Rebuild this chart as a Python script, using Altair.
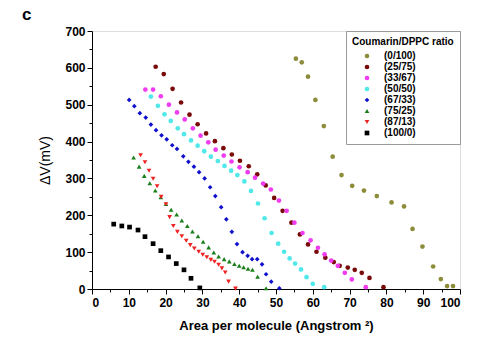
import altair as alt
import pandas as pd

series_names = ["(0/100)", "(25/75)", "(33/67)", "(50/50)", "(67/33)", "(75/25)", "(87/13)", "(100/0)"]
series_colors = ["#8c8c3a", "#7a0a0a", "#f03cf0", "#50e8e8", "#1010cc", "#1a7f1a", "#ee2222", "#000000"]
series_shapes = ["circle", "circle", "circle", "circle", "diamond", "triangle-up", "triangle-down", "square"]

x_0_100 = [55.4, 57.0, 58.7, 60.7, 63.0, 65.4, 67.8, 70.7, 73.9, 77.4, 81.4, 84.8, 87.1, 89.8, 92.7, 94.8, 96.5, 98.1]
y_0_100 = [625, 615, 576, 513, 442, 359, 309, 280, 267, 252, 235, 224, 163, 115, 61, 27, 8, 8]

x_25_75 = [17.3, 19.5, 21.9, 24.2, 26.5, 28.7, 31.0, 33.4, 35.7, 38.0, 40.2, 42.6, 44.9, 47.2, 49.5, 51.8, 54.2, 56.5, 58.7, 61.0, 63.4, 65.7, 67.3, 69.5, 71.4, 73.3, 75.4, 79.2]
y_25_75 = [603, 583, 543, 506, 473, 447, 422, 401, 382, 365, 348, 333, 311, 281, 247, 212, 180, 148, 121, 101, 85, 73, 63, 58, 52, 44, 30, 5]

x_33_67 = [14.5, 16.6, 18.7, 20.9, 23.1, 25.2, 27.4, 29.5, 31.6, 33.6, 35.8, 37.9, 40.1, 42.3, 44.3, 46.5, 48.6, 50.8, 52.9, 55.0, 57.2, 59.4, 61.4, 63.2, 65.0, 66.8, 68.7, 70.6, 74.4]
y_33_67 = [541, 541, 523, 500, 479, 460, 436, 416, 398, 378, 362, 346, 330, 317, 302, 286, 270, 240, 212, 180, 152, 132, 112, 94, 77, 63, 44, 26, 5]

x_50_50 = [16.0, 17.9, 19.7, 21.4, 23.3, 25.0, 26.9, 28.7, 30.5, 32.3, 34.2, 36.0, 37.8, 39.5, 41.4, 43.2, 45.1, 46.9, 48.8, 50.6, 52.2, 53.7, 55.2, 56.8, 58.3, 60.0, 63.1]
y_50_50 = [522, 497, 474, 456, 436, 420, 403, 389, 374, 359, 347, 334, 321, 309, 292, 266, 232, 192, 152, 123, 101, 83, 69, 53, 32, 14, 5]

x_67_33 = [10.1, 11.5, 13.0, 14.6, 16.0, 17.4, 18.9, 20.3, 21.8, 23.1, 24.8, 26.2, 27.7, 29.1, 30.6, 32.1, 33.5, 35.1, 36.5, 38.0, 39.4, 40.9, 42.3, 43.5, 44.9, 46.2, 47.3, 48.7, 50.9]
y_67_33 = [513, 496, 477, 465, 446, 431, 417, 406, 390, 380, 360, 345, 332, 317, 300, 276, 252, 222, 189, 155, 122, 100, 90, 81, 81, 67, 40, 20, 2]

x_75_25 = [11.3, 12.8, 14.2, 15.7, 17.2, 18.7, 20.1, 21.5, 23.0, 24.4, 25.9, 27.3, 28.8, 30.2, 31.7, 33.1, 34.4, 35.9, 37.3, 38.7, 40.0, 41.2, 42.4, 43.6, 45.0, 47.3]
y_75_25 = [357, 332, 307, 287, 267, 249, 231, 215, 202, 186, 171, 156, 143, 128, 113, 99, 88, 81, 75, 68, 63, 59, 55, 52, 33, 2]

x_87_13 = [13.2, 14.4, 15.5, 16.6, 17.7, 18.8, 20.1, 21.1, 22.1, 23.2, 24.4, 25.6, 26.7, 27.8, 29.0, 30.1, 31.2, 32.3, 33.3, 34.4, 35.3, 36.2, 37.1, 39.0]
y_87_13 = [363, 344, 321, 299, 279, 250, 230, 195, 171, 155, 143, 131, 119, 110, 101, 93, 86, 79, 74, 66, 56, 45, 20, 1]

x_100_0 = [5.9, 8.1, 10.2, 12.5, 14.4, 16.6, 18.7, 20.8, 22.9, 25.0, 26.9, 29.3]
y_100_0 = [176, 171, 168, 160, 142, 123, 104, 87, 69, 52, 29, 3]

x_major = [0, 10, 20, 30, 40, 50, 60, 70, 80, 90, 100]
x_minor = [5, 15, 25, 35, 45, 55, 65, 75, 85, 95]
y_major = [0, 100, 200, 300, 400, 500, 600, 700]
y_minor = [50, 150, 250, 350, 450, 550, 650]

all_x = [x_0_100, x_25_75, x_33_67, x_50_50, x_67_33, x_75_25, x_87_13, x_100_0]
all_y = [y_0_100, y_25_75, y_33_67, y_50_50, y_67_33, y_75_25, y_87_13, y_100_0]

rows = []
for name, xs, ys in zip(series_names, all_x, all_y):
    for xv, yv in zip(xs, ys):
        rows.append({"series": name, "area": xv, "dv": yv})
df = pd.DataFrame(rows)

FONT = "Liberation Sans"

xscale = alt.Scale(domain=[0, 100], nice=False, zero=False)
yscale = alt.Scale(domain=[0, 700], nice=False, zero=False)

points = alt.Chart(df).mark_point(filled=True, size=22, opacity=1).encode(
    x=alt.X("area:Q", scale=xscale,
            axis=alt.Axis(values=x_major, title="Area per molecule (Angstrom ²)", orient="bottom",
                          grid=False, tickSize=5, tickColor="black", domainColor="black",
                          labelFont=FONT, labelFontWeight="bold", labelFontSize=12, labelColor="black",
                          labelPadding=3, titleFont=FONT, titleFontWeight="bold", titleFontSize=13,
                          titleColor="black", titlePadding=11)),
    y=alt.Y("dv:Q", scale=yscale,
            axis=alt.Axis(values=y_major, title="ΔV(mV)", orient="left",
                          grid=False, tickSize=5, tickColor="black", domainColor="black",
                          labelFont=FONT, labelFontWeight="bold", labelFontSize=12, labelColor="black",
                          labelPadding=2, titleFont=FONT, titleFontWeight="normal", titleFontSize=14,
                          titleColor="black", titlePadding=12)),
    color=alt.Color("series:N", scale=alt.Scale(domain=series_names, range=series_colors),
                    title="Coumarin/DPPC ratio",
                    legend=alt.Legend(orient="top-right", offset=0, fillColor="white",
                                      strokeColor="#999999", padding=6, symbolSize=22,
                                      symbolOffset=10,
                                      titleFont=FONT, titleFontSize=10, titleFontWeight="bold",
                                      titleColor="black", labelFont=FONT, labelFontSize=10,
                                      labelFontWeight="bold", labelColor="black", labelOffset=12,
                                      rowPadding=1, titlePadding=4)),
    shape=alt.Shape("series:N", scale=alt.Scale(domain=series_names, range=series_shapes),
                    title="Coumarin/DPPC ratio"),
)

minor = alt.Chart(pd.DataFrame({"area": [0], "dv": [0]})).mark_point(opacity=0).encode(
    x=alt.X("area:Q", scale=xscale,
            axis=alt.Axis(values=x_minor, title=None, labels=False, domain=False, grid=False,
                          tickSize=3, tickColor="black", orient="bottom")),
    y=alt.Y("dv:Q", scale=yscale,
            axis=alt.Axis(values=y_minor, title=None, labels=False, domain=False, grid=False,
                          tickSize=3, tickColor="black", orient="left")),
)

label_c = alt.Chart(pd.DataFrame({"t": ["c"]})).mark_text(
    font=FONT, fontWeight="bold", fontSize=17, align="left", baseline="top", color="black"
).encode(text="t:N", x=alt.value(-70), y=alt.value(-24))

chart = alt.layer(minor, points, label_c).resolve_axis(x="independent", y="independent").properties(
    width=368, height=258,
    autosize=alt.AutoSizeParams(type="none"),
    padding={"left": 92, "top": 31, "right": 27, "bottom": 64},
).configure_view(stroke="black", strokeWidth=1).configure(background="white")

chart.save("out.html", embed_options={"renderer": "svg", "actions": False})
